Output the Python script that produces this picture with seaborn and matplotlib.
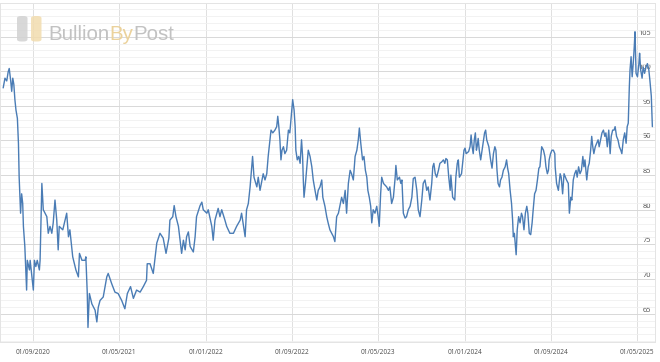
import numpy as np
import pandas as pd
import matplotlib
matplotlib.use("Agg")
import matplotlib.pyplot as plt
import matplotlib.dates as mdates
from matplotlib.ticker import MultipleLocator
from matplotlib.patches import FancyBboxPatch
from matplotlib import font_manager
import seaborn as sns

# ---------------- data (gold / silver ratio) ----------------
BASE_DATE = "2020-09-01"          # day_offset is counted from this date
day_offset = [
    -84, -79, -74, -70, -67, -63, -60, -57, -54, -51, -48, -44, -41, -39, -35, -32, -29, -27,
    -23, -18, -16, -10, -8, -4, 1, 4, 8, 12, 18, 20, 25, 29, 39, 43, 48, 53, 57, 62, 67, 71,
    74, 84, 95, 100, 104, 112, 121, 128, 131, 138, 147, 149, 153, 155, 159, 166, 175,
    180, 184, 189, 198, 208, 212, 222, 231, 240, 250, 259, 266, 275, 283, 292, 302, 311,
    320, 322, 330, 339, 349, 358, 367, 375, 383, 386, 394, 398, 403, 410, 419,
    424, 429, 433, 438, 443, 452, 457, 461, 471, 476, 480, 490, 494, 504, 508, 513, 522,
    527, 532, 541, 546, 555, 565, 574, 584, 588, 598, 602, 607, 612, 619, 623, 631, 635,
    640, 649, 654, 659, 663, 671, 676, 682,
    687, 690, 693, 696, 699, 702, 706, 710, 715, 720, 724, 729, 732, 736, 739, 741, 745,
    749, 753, 757, 760, 762, 764, 768, 772, 776, 781, 786, 790, 795, 800, 804, 809, 814,
    817, 823, 828, 832, 837, 842, 847, 851, 856, 861, 865, 870, 875, 880, 884, 889, 894,
    898, 903, 908, 913, 917, 920, 924,
    929, 933, 937, 941, 944, 948, 952, 955, 959, 964, 969, 973, 976, 980, 983, 988, 997,
    1002, 1006, 1011, 1016, 1021, 1023, 1027, 1033, 1037, 1040, 1044, 1049, 1053, 1058,
    1063, 1068, 1072, 1077, 1082, 1086, 1091, 1096, 1100, 1105, 1110, 1114, 1119, 1124,
    1127, 1130, 1134, 1138, 1143, 1147, 1152, 1157, 1161, 1164, 1168, 1172, 1176, 1178, 1183,
    1189, 1192, 1196, 1199, 1202, 1208, 1211, 1215, 1218, 1221, 1228, 1232, 1235, 1238,
    1241, 1244, 1247, 1250, 1252, 1255, 1258, 1262, 1266, 1269, 1273, 1276, 1279, 1285,
    1290, 1294, 1298, 1302, 1305, 1308, 1311, 1315, 1318, 1322, 1326, 1331, 1335, 1338,
    1341, 1345, 1349, 1352, 1354, 1357, 1360, 1362, 1365, 1369, 1373, 1377, 1380, 1384,
    1388, 1392, 1395, 1399, 1403, 1407, 1410, 1414, 1418, 1422, 1426,
    1429, 1434, 1439, 1443, 1446, 1450, 1453, 1455, 1459, 1463, 1467, 1471, 1472, 1476,
    1481, 1486, 1489, 1493, 1497, 1501, 1504, 1509, 1512, 1516, 1519, 1523, 1527, 1531,
    1534, 1538, 1542, 1546, 1550, 1553, 1556, 1561, 1565, 1568, 1572, 1575, 1578, 1581,
    1585, 1589, 1593, 1596, 1600, 1604, 1608, 1612, 1615, 1619, 1623, 1627, 1630, 1634,
    1638, 1641, 1645, 1649, 1653, 1657, 1660, 1664, 1668, 1672, 1675, 1678, 1681, 1683,
    1686, 1689, 1692, 1695, 1697, 1700, 1704, 1708, 1710, 1713, 1717, 1720, 1724, 1728,
    1732, 1736, 1739, 1743, 1746,
]
gold_silver_ratio = [
    97.6, 99.0, 98.6, 99.9, 100.4, 98.7, 97.1, 99.0, 98.1, 95.9, 94.4, 93.2, 89.6, 84.7, 79.5, 82.3, 80.9, 77.6,
    74.7, 68.4, 72.7, 71.3, 72.7, 70.8, 68.4, 72.7, 71.8, 72.7, 71.3, 72.7, 83.8, 80.0, 79.0, 76.6, 77.6, 76.6, 78.1, 81.4, 78.5, 74.2,
    77.6, 77.1, 79.5, 76.1, 77.1, 73.2, 71.3, 70.3, 73.7, 72.7, 72.7, 73.2, 67.9, 63.0, 67.9, 66.4, 65.5,
    63.8, 65.9, 66.9, 67.4, 70.3, 70.8, 69.3, 68.1, 67.9, 66.9, 65.7, 67.9, 68.9, 67.2, 68.4, 68.1, 68.9,
    69.8, 72.2, 72.2, 70.8, 75.2, 76.6, 75.9, 73.7, 75.9, 78.5, 79.0, 80.6, 79.0, 77.6, 73.7,
    75.6, 74.2, 76.1, 76.8, 74.7, 73.9, 76.1, 79.0, 80.6, 81.1, 80.0, 79.5, 80.0, 77.6, 75.6, 78.5, 80.2,
    79.0, 80.0, 78.5, 77.6, 76.6, 76.6, 77.6, 78.5, 79.5, 76.1, 80.0, 80.9, 83.3, 87.7, 84.7, 83.3, 84.7,
    82.8, 85.2, 84.3, 85.2, 87.7, 91.5, 91.1, 91.5,
    92.0, 93.5, 92.0, 90.1, 87.2, 88.6, 89.1, 88.1, 88.6, 91.5, 91.1, 94.0, 95.9, 94.4, 92.0, 88.6, 87.2,
    87.7, 86.7, 90.1, 87.7, 84.3, 81.8, 83.8, 86.2, 88.6, 87.7, 86.2, 84.3, 82.8, 81.4, 82.8, 83.3, 84.3,
    81.8, 80.5, 79.0, 78.1, 77.1, 76.6, 76.1, 75.4, 79.0, 79.5, 80.5, 81.8, 80.9, 82.8, 79.5, 83.8, 85.7,
    85.2, 84.3, 87.7, 88.6, 90.1, 91.8, 89.6,
    87.2, 87.7, 85.7, 84.7, 82.8, 81.8, 80.5, 78.1, 80.0, 79.5, 80.5, 79.0, 77.6, 82.3, 84.7, 83.8, 83.3,
    82.8, 83.3, 80.9, 81.8, 84.7, 86.4, 84.3, 84.7, 83.8, 84.3, 79.5, 78.8, 79.0, 80.0,
    80.5, 81.8, 84.5, 84.7, 82.8, 80.0, 79.0, 81.4, 83.8, 84.3, 82.8, 83.3, 81.4, 83.8,
    86.2, 86.7, 85.2, 84.7, 85.7, 86.7, 86.9, 87.2, 86.7, 87.4, 87.2, 84.7, 82.8, 85.0, 81.8,
    81.4, 84.7, 86.7, 87.2, 84.7, 85.2, 86.7, 88.6, 88.9, 88.1, 88.4, 89.1, 90.8, 89.1,
    88.1, 90.1, 91.1, 88.6, 89.1, 90.3, 88.6, 87.2, 88.6, 89.6, 91.1, 91.5, 90.1, 89.1,
    87.2, 86.0, 88.1, 89.1, 88.6, 85.7, 83.8, 83.3, 84.3, 84.7, 85.7, 86.2, 87.2, 86.0,
    85.2, 82.8, 80.9, 78.5, 76.1, 76.6, 74.7, 73.5, 77.1, 79.0, 78.1, 79.5, 79.0, 77.1,
    79.5, 80.5, 79.5, 76.6, 76.4, 78.1, 80.0, 82.3, 82.8, 84.3, 86.0,
    86.2, 89.1, 88.6, 87.7, 86.2, 85.2, 85.7, 87.2, 88.1, 88.6, 88.6, 88.1, 86.2, 83.8,
    82.8, 85.2, 84.7, 82.3, 85.2, 84.7, 84.3, 83.8, 79.5, 81.8, 81.4, 84.3, 85.2, 85.7,
    84.7, 86.2, 85.2, 85.7, 87.7, 86.2, 87.2, 84.3, 86.2, 86.7, 88.6, 90.6, 89.1, 88.1,
    89.1, 89.6, 90.1, 89.1, 90.1, 91.1, 91.5, 90.6, 91.1, 89.1, 91.5, 88.1, 90.6, 91.5,
    91.5, 92.0, 90.6, 90.1, 89.1, 88.6, 88.1, 90.1, 91.1, 89.6, 92.0, 92.5, 97.7, 100.2,
    102.1, 99.2, 101.1, 103.6, 105.7, 99.7, 99.2, 101.1, 102.6, 100.2, 99.0, 100.6, 99.7, 100.6,
    101.1, 100.2, 98.7, 96.4, 92.0,
]
x_tick_dates = ["2020-09-01", "2021-05-01", "2022-01-01", "2022-09-01",
                "2023-05-01", "2024-01-01", "2024-09-01", "2025-05-01"]
y_ticks = [65, 70, 75, 80, 85, 90, 95, 100, 105]
x_range = ("2020-05-31", "2025-06-19")
y_range = (60.9, 109.9)

df = pd.DataFrame({
    "date": pd.Timestamp(BASE_DATE) + pd.to_timedelta(day_offset, unit="D"),
    "ratio": gold_silver_ratio,
})

# ---------------- style ----------------
sns.set_theme(style="white")
plt.rcParams["font.family"] = ["Open Sans", "DejaVu Sans"]

W, H = 660, 362
fig = plt.figure(figsize=(W / 100, H / 100), dpi=100)
fig.patch.set_facecolor("white")
ax = fig.add_axes([0.0, 20 / H, 654.5 / W, 339.3 / H])
ax.set_facecolor("white")

sns.lineplot(data=df, x="date", y="ratio", ax=ax, color="#4a7cb5", linewidth=1.0)

ax.set_xlim(pd.Timestamp(x_range[0]), pd.Timestamp(x_range[1]))
ax.set_ylim(*y_range)
ax.set_xlabel("")
ax.set_ylabel("")

ax.set_xticks(pd.to_datetime(x_tick_dates))
ax.xaxis.set_major_formatter(mdates.DateFormatter("%d/%m/%Y"))
ax.yaxis.tick_right()
ax.set_yticks(y_ticks, [str(v) for v in y_ticks], ha="right", va="bottom")
ax.yaxis.set_minor_locator(MultipleLocator(1))

ax.tick_params(axis="x", which="both", length=0, pad=5.3, labelsize=4.7, labelcolor="#4a4a4a")
ax.tick_params(axis="y", which="both", length=0, pad=-2.3, labelsize=5.3, labelcolor="#4a4a4a")

ax.set_axisbelow(True)
ax.grid(which="minor", axis="y", color="#f0f0f0", linewidth=0.6)
ax.grid(which="major", axis="y", color="#d8d8d8", linewidth=0.7)
ax.grid(which="major", axis="x", color="#e0e0e0", linewidth=0.7)
for s in ax.spines.values():
    s.set_color("#e4e4e4")
    s.set_linewidth(0.7)

# ---------------- watermark logo ----------------
def fx(px):
    return px / W

def fy(py):
    return 1 - py / H

for x0, col in [(17, "#d2d2d2"), (31, "#f2dcae")]:
    box = FancyBboxPatch((fx(x0), fy(41.5)), fx(10.5), 25.5 / H,
                         boxstyle="round,pad=0,rounding_size=0.006",
                         transform=fig.transFigure, facecolor=col,
                         edgecolor="none", alpha=0.85, zorder=5)
    fig.patches.append(box)

names = {f.name for f in font_manager.fontManager.ttflist}
if "Liberation Sans Narrow" in names:
    logo_font, logo_size = "Liberation Sans Narrow", 17.8
else:
    logo_font, logo_size = "Liberation Sans", 14.8

renderer = fig.canvas.get_renderer()
cur_x = 48
for word, col in [("Bullion", "#c2c2c2"), ("By", "#ebd29c"), ("Post", "#c2c2c2")]:
    t = fig.text(fx(cur_x), fy(40), word, family=logo_font, fontsize=logo_size,
                 color=col, ha="left", va="baseline", zorder=5)
    bb = t.get_window_extent(renderer=renderer)
    cur_x += bb.width

fig.savefig("out.png", dpi=100, facecolor="white")
